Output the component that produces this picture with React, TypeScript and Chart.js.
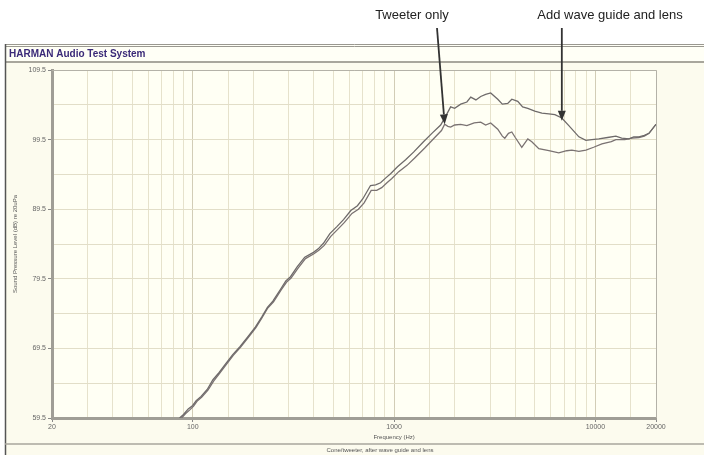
import React, { useEffect, useRef } from "react";
import { Chart, registerables } from "chart.js";
Chart.register(...registerables);

// Frequency response: tweeter with wave guide and lens
const waveGuideFreq = [86, 90, 95, 100, 104, 110, 118, 126, 135, 145, 158, 172, 188, 205, 220, 235, 250, 273, 290, 306, 330, 360, 398, 420, 446, 480, 520, 561, 610, 658, 700, 764, 810, 857, 910, 961, 1040, 1141, 1250, 1400, 1555, 1704, 1800, 1910, 2000, 2143, 2300, 2404, 2550, 2694, 2850, 3020, 3274, 3450, 3670, 3844, 4115, 4350, 4616, 5000, 5420, 5874, 6292, 6812, 7380, 8280, 8974, 9600, 10400, 11500, 12640, 13500, 14680, 15500, 16456, 17500, 18460, 20000];
const waveGuideDb = [59.5, 60.0, 60.8, 61.3, 62.0, 62.6, 63.6, 65.0, 66.0, 67.2, 68.6, 69.8, 71.2, 72.6, 74.0, 75.4, 76.3, 78.0, 79.2, 79.8, 81.2, 82.6, 83.3, 83.8, 84.6, 86.0, 87.0, 88.0, 89.3, 90.0, 91.0, 92.9, 93.0, 93.3, 94.0, 94.6, 95.6, 96.6, 97.7, 99.2, 100.5, 101.6, 102.8, 104.2, 104.0, 104.6, 104.9, 105.6, 105.2, 105.7, 106.0, 106.2, 105.3, 104.6, 104.7, 105.3, 105.0, 104.2, 104.0, 103.6, 103.3, 103.2, 103.1, 102.6, 101.5, 99.9, 99.4, 99.5, 99.6, 99.8, 100.0, 99.7, 99.6, 99.9, 99.9, 100.1, 100.4, 101.7];

// Frequency response: tweeter only
const tweeterFreq = [88, 92, 97, 101, 105, 111, 119, 127, 136, 146, 159, 173, 189, 206, 221, 236, 252, 275, 292, 308, 333, 363, 400, 423, 450, 485, 525, 567, 618, 665, 710, 770, 820, 868, 922, 975, 1055, 1160, 1270, 1420, 1580, 1720, 1784, 1850, 1910, 2000, 2143, 2300, 2500, 2694, 2850, 3020, 3274, 3450, 3548, 3700, 3844, 4000, 4309, 4616, 4833, 5236, 5874, 6578, 7200, 7640, 8280, 8974, 9800, 10772, 12000, 12640, 14000, 15200, 16456, 17500, 18460, 20000];
const tweeterDb = [59.5, 60.1, 60.7, 61.2, 61.9, 62.5, 63.5, 64.8, 65.9, 67.1, 68.5, 69.7, 71.1, 72.5, 73.9, 75.3, 76.2, 77.9, 79.0, 79.6, 81.0, 82.4, 83.1, 83.6, 84.3, 85.6, 86.6, 87.6, 88.9, 89.5, 90.4, 92.2, 92.2, 92.6, 93.3, 93.9, 94.9, 95.8, 96.9, 98.3, 99.7, 100.8, 101.7, 101.4, 101.3, 101.6, 101.7, 101.5, 101.9, 102.0, 101.6, 101.9, 101.0, 100.0, 99.7, 100.4, 100.6, 99.8, 98.4, 99.6, 99.2, 98.2, 97.9, 97.6, 97.9, 98.0, 97.8, 98.0, 98.4, 98.9, 99.2, 99.5, 99.5, 99.7, 99.8, 100.0, 100.4, 101.7];

const xTickLabels = [20, 100, 1000, 10000, 20000];
const yTickLabels = [59.5, 69.5, 79.5, 89.5, 99.5, 109.5];
const yMin = 59.5;
const yMax = 109.5;

// annotation targets (data space)
const tweeterArrowFreq = 1784;
const tweeterArrowDb = 101.7;
const guideArrowFreq = 6812;
const guideArrowDb = 102.2;

const FONT = "'Liberation Sans', Arial, sans-serif";

const frame = {
  id: "frame",
  beforeDraw(chart: any) {
    const { ctx, width, height, chartArea: a } = chart;
    ctx.save();
    ctx.fillStyle = "#ffffff";
    ctx.fillRect(0, 0, width, height);
    // panel
    ctx.fillStyle = "#fcfbee";
    ctx.fillRect(5, 44, width - 5, height - 44);
    // title bar
    ctx.fillStyle = "#fffff6";
    ctx.fillRect(5, 45, width - 5, 17);
    ctx.strokeStyle = "#9a9890";
    ctx.lineWidth = 1;
    ctx.beginPath();
    ctx.moveTo(5, 44.5); ctx.lineTo(width, 44.5);
    ctx.moveTo(5, 46.5); ctx.lineTo(width, 46.5);
    ctx.stroke();
    ctx.strokeStyle = "#a8a69c";
    ctx.lineWidth = 2;
    ctx.beginPath();
    ctx.moveTo(5, 62); ctx.lineTo(width, 62);
    ctx.stroke();
    ctx.strokeStyle = "#555";
    ctx.lineWidth = 1.5;
    ctx.beginPath();
    ctx.moveTo(5.5, 44); ctx.lineTo(5.5, height);
    ctx.stroke();
    ctx.fillStyle = "#3b2a78";
    ctx.font = `bold 10px ${FONT}`;
    ctx.textBaseline = "middle";
    ctx.textAlign = "left";
    ctx.fillText("HARMAN Audio Test System", 9, 54);
    // plot background
    ctx.fillStyle = "#fffff4";
    ctx.fillRect(a.left, a.top, a.right - a.left, a.bottom - a.top);
    // footer separator
    ctx.strokeStyle = "#a8a69c";
    ctx.lineWidth = 1.5;
    ctx.beginPath();
    ctx.moveTo(5, 444); ctx.lineTo(width, 444);
    ctx.stroke();
    ctx.restore();
  },
  afterDraw(chart: any) {
    const { ctx, chartArea: a, scales } = chart;
    const xs = scales.x, ys = scales.y;
    ctx.save();
    // thin plot border top/right
    ctx.strokeStyle = "#b4b2a8";
    ctx.lineWidth = 1;
    ctx.beginPath();
    ctx.moveTo(a.left, a.top + 0.5); ctx.lineTo(a.right + 0.5, a.top + 0.5);
    ctx.lineTo(a.right + 0.5, a.bottom);
    ctx.stroke();
    // axis titles
    ctx.fillStyle = "#555";
    ctx.font = `6px ${FONT}`;
    ctx.textAlign = "center";
    ctx.textBaseline = "middle";
    ctx.fillText("Frequency (Hz)", xs.getPixelForValue(1000), 437);
    ctx.fillText("Cone/tweeter, after wave guide and lens", 380, 450);
    ctx.save();
    ctx.translate(15, (a.top + a.bottom) / 2);
    ctx.rotate(-Math.PI / 2);
    ctx.fillText("Sound Pressure Level (dB) re 20uPa", 0, 0);
    ctx.restore();
    // annotations
    ctx.fillStyle = "#222";
    ctx.font = `13px ${FONT}`;
    ctx.textBaseline = "middle";
    ctx.fillText("Tweeter only", 412, 15);
    ctx.fillText("Add wave guide and lens", 610, 15);
    const arrow = (x0: number, y0: number, x1: number, y1: number) => {
      const ang = Math.atan2(y1 - y0, x1 - x0);
      const hl = 10, hw = 4;
      const bx = x1 - hl * Math.cos(ang), by = y1 - hl * Math.sin(ang);
      ctx.strokeStyle = "#333";
      ctx.lineWidth = 1.8;
      ctx.beginPath();
      ctx.moveTo(x0, y0); ctx.lineTo(bx, by);
      ctx.stroke();
      ctx.fillStyle = "#333";
      ctx.beginPath();
      ctx.moveTo(x1, y1);
      ctx.lineTo(bx + hw * Math.sin(ang), by - hw * Math.cos(ang));
      ctx.lineTo(bx - hw * Math.sin(ang), by + hw * Math.cos(ang));
      ctx.closePath();
      ctx.fill();
    };
    arrow(437, 28, xs.getPixelForValue(tweeterArrowFreq), ys.getPixelForValue(tweeterArrowDb));
    const gx = xs.getPixelForValue(guideArrowFreq);
    arrow(gx, 28, gx, ys.getPixelForValue(guideArrowDb));
    ctx.restore();
  },
};

export default function App() {
  const ref = useRef<HTMLCanvasElement>(null);
  useEffect(() => {
    document.body.style.margin = "0";
    const toPts = (f: number[], d: number[]) => f.map((x, i) => ({ x, y: d[i] }));
    const chart = new Chart(ref.current!, {
      type: "line",
      data: {
        datasets: [
          {
            label: "Add wave guide and lens",
            data: toPts(waveGuideFreq, waveGuideDb),
            borderColor: "#6e6a6a",
            borderWidth: 1.3,
            pointRadius: 0,
            tension: 0,
          },
          {
            label: "Tweeter only",
            data: toPts(tweeterFreq, tweeterDb),
            borderColor: "#7a7272",
            borderWidth: 1.3,
            pointRadius: 0,
            tension: 0,
          },
        ],
      },
      options: {
        animation: false,
        responsive: false,
        devicePixelRatio: 1,
        layout: { padding: { left: 5, top: 70, right: 48, bottom: 0 } },
        plugins: { legend: { display: false }, tooltip: { enabled: false } },
        scales: {
          x: {
            type: "logarithmic",
            min: 20,
            max: 20000,
            afterFit: (s: any) => { s.height = 37; },
            border: { color: "#a09e96", width: 3 },
            grid: {
              color: (c: any) => {
                const v = c.tick?.value;
                const l = Math.log10(v);
                return Math.abs(l - Math.round(l)) < 1e-6 ? "#d2cdb6" : "#e6e2cc";
              },
              tickColor: (c: any) => (xTickLabels.includes(c.tick?.value) ? "#888" : "rgba(0,0,0,0)"),
              tickLength: 4,
            },
            ticks: {
              autoSkip: false,
              maxRotation: 0,
              padding: 1,
              color: "#666",
              font: { family: FONT, size: 7 },
              callback: (v: any) => (xTickLabels.includes(Number(v)) ? String(v) : ""),
            },
          },
          y: {
            min: yMin,
            max: yMax,
            afterFit: (s: any) => { s.width = 47; },
            border: { color: "#a09e96", width: 3 },
            grid: {
              color: "#e2dec8",
              tickColor: (c: any) => (yTickLabels.some((t) => Math.abs(t - c.tick?.value) < 1e-6) ? "#888" : "rgba(0,0,0,0)"),
              tickLength: 4,
            },
            ticks: {
              stepSize: 5,
              autoSkip: false,
              padding: 2,
              color: "#666",
              font: { family: FONT, size: 7 },
              callback: (v: any) => (yTickLabels.some((t) => Math.abs(t - Number(v)) < 1e-6) ? Number(v).toFixed(1) : ""),
            },
          },
        },
      },
      plugins: [frame],
    } as any);
    return () => chart.destroy();
  }, []);
  return <canvas ref={ref} width={704} height={455} style={{ display: "block" }} />;
}
